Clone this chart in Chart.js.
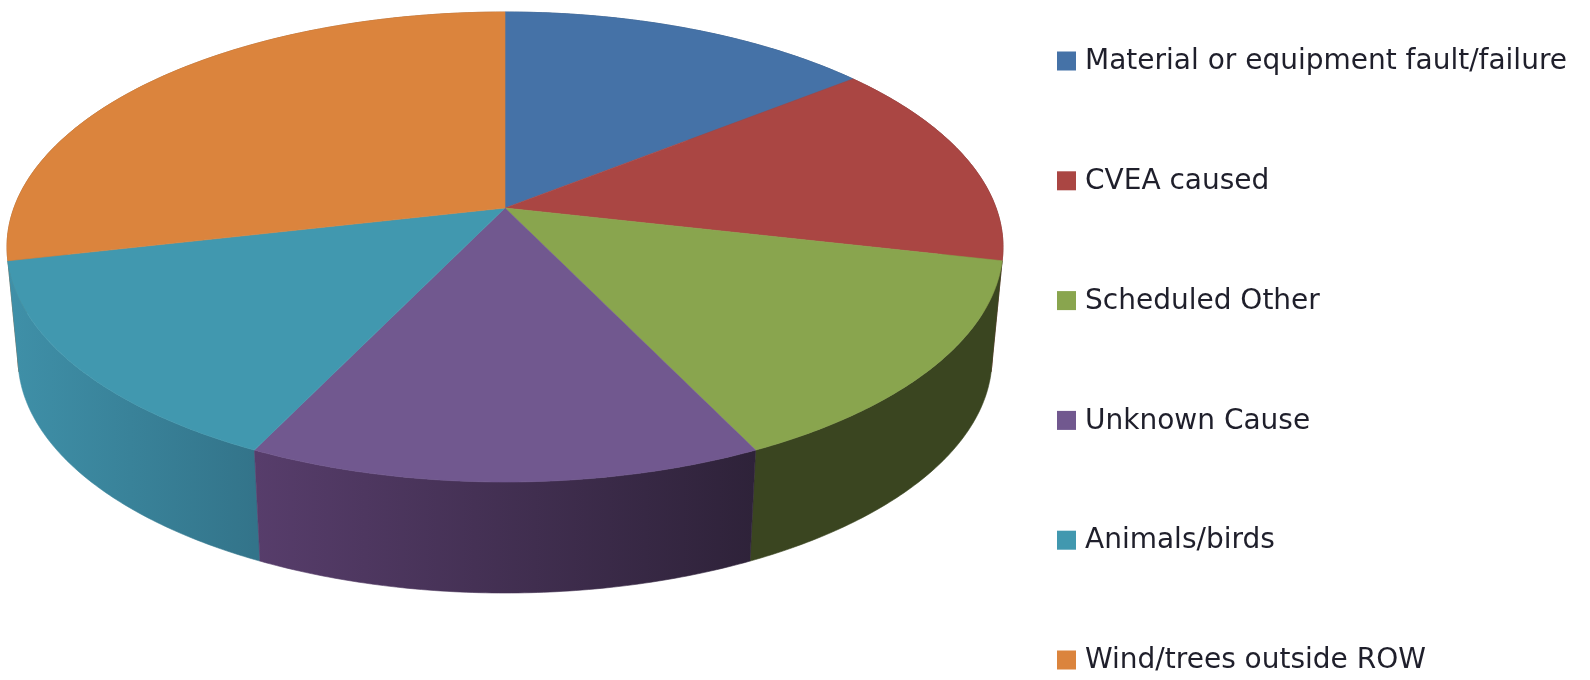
<!DOCTYPE html>
<html>
<head>
<meta charset="utf-8">
<title>Outage causes</title>
<script src="https://cdn.jsdelivr.net/npm/chart.js@4"></script>
<style>
    html, body { margin: 0; padding: 0; background: #fff; overflow: hidden; }
    canvas { display: block; filter: blur(0.5px); }
</style>
</head>
<body>
<canvas id="outageChart" width="1590" height="680"></canvas>
<script>
// Data
const causes = [
    'Material or equipment fault/failure',
    'CVEA caused',
    'Scheduled Other',
    'Unknown Cause',
    'Animals/birds',
    'Wind/trees outside ROW'
];
const outages = [1, 1, 1, 1, 1, 2];
const faceColors = ['#4572A7', '#AA4643', '#89A54E', '#71588F', '#4198AF', '#DB843D'];
const wallStart = ['#2f4f75', '#76302e', '#3a4520', '#573D6B', '#3f90a8', '#98592a'];
const wallEnd = ['#2f4f75', '#76302e', '#3a4520', '#2E2239', '#33748a', '#98592a'];

// Tilted disc geometry
const disc = { cx: 505, cy: 208, ellipseY: 247, k: 491.1, a: 194, c: -0.166 };
const base = { scaleX: 487 / 498, scaleY: 1, y: 358 };
const legendBox = { x: 1057, y: 61, size: 19, step: 119.8, textX: 1085, textDy: 1 };

// Projects an angle of the library's arc onto the tilted top face
function rim(angle) {
    const theta = angle + Math.PI / 2;
    const u = -Math.cos(theta);
    const v = Math.sin(theta);
    const d = 1 + disc.c * u;
    return { x: disc.cx + disc.k * v / d, y: (disc.a * u + disc.cy) / d };
}

function baseRim(angle) {
    const p = rim(angle);
    return {
        x: disc.cx + (p.x - disc.cx) * base.scaleX,
        y: base.y + (p.y - disc.ellipseY) * base.scaleY
    };
}

function arcPoints(arc, fn) {
    const pts = [];
    const steps = 80;
    for (let i = 0; i <= steps; i++) {
        pts.push(fn(arc.startAngle + (arc.endAngle - arc.startAngle) * i / steps));
    }
    return pts;
}

const pie3d = {
    id: 'pie3d',
    beforeDatasetDraw(chart) {
        const ctx = chart.ctx;
        const arcs = chart.getDatasetMeta(0).data;

        // Side walls, back slices first
        [5, 0, 1, 2, 4, 3].forEach(i => {
            const top = arcPoints(arcs[i], rim);
            const bottom = arcPoints(arcs[i], baseRim);
            const first = top[0].x;
            const last = top[top.length - 1].x;
            const fill = ctx.createLinearGradient(first, 0, last === first ? first + 1 : last, 0);
            fill.addColorStop(0, first < last ? wallStart[i] : wallEnd[i]);
            fill.addColorStop(1, first < last ? wallEnd[i] : wallStart[i]);
            ctx.beginPath();
            top.forEach((p, n) => n ? ctx.lineTo(p.x, p.y) : ctx.moveTo(p.x, p.y));
            bottom.reverse().forEach(p => ctx.lineTo(p.x, p.y));
            ctx.closePath();
            ctx.fillStyle = fill;
            ctx.strokeStyle = fill;
            ctx.lineWidth = 0.6;
            ctx.fill();
            ctx.stroke();
        });

        // Top face
        arcs.forEach((arc, i) => {
            ctx.beginPath();
            ctx.moveTo(disc.cx, disc.cy);
            arcPoints(arc, rim).forEach(p => ctx.lineTo(p.x, p.y));
            ctx.closePath();
            ctx.fillStyle = faceColors[i];
            ctx.strokeStyle = faceColors[i];
            ctx.lineWidth = 0.6;
            ctx.fill();
            ctx.stroke();
        });
        return false;
    },
    afterDraw(chart) {
        const ctx = chart.ctx;
        ctx.save();
        ctx.font = '28px "DejaVu Sans"';
        ctx.textBaseline = 'middle';
        chart.data.labels.forEach((label, i) => {
            const y = legendBox.y + i * legendBox.step;
            ctx.fillStyle = faceColors[i];
            ctx.fillRect(legendBox.x, y - legendBox.size / 2, legendBox.size, legendBox.size);
            ctx.fillStyle = '#1f1f2b';
            ctx.fillText(label, legendBox.textX, y + legendBox.textDy);
        });
        ctx.restore();
    }
};

new Chart(document.getElementById('outageChart').getContext('2d'), {
    type: 'pie',
    data: {
        labels: causes,
        datasets: [{
            data: outages,
            backgroundColor: faceColors,
            borderWidth: 0
        }]
    },
    options: {
        responsive: false,
        animation: false,
        plugins: {
            legend: { display: false },
            tooltip: { enabled: false }
        }
    },
    plugins: [pie3d]
});
</script>
</body>
</html>
